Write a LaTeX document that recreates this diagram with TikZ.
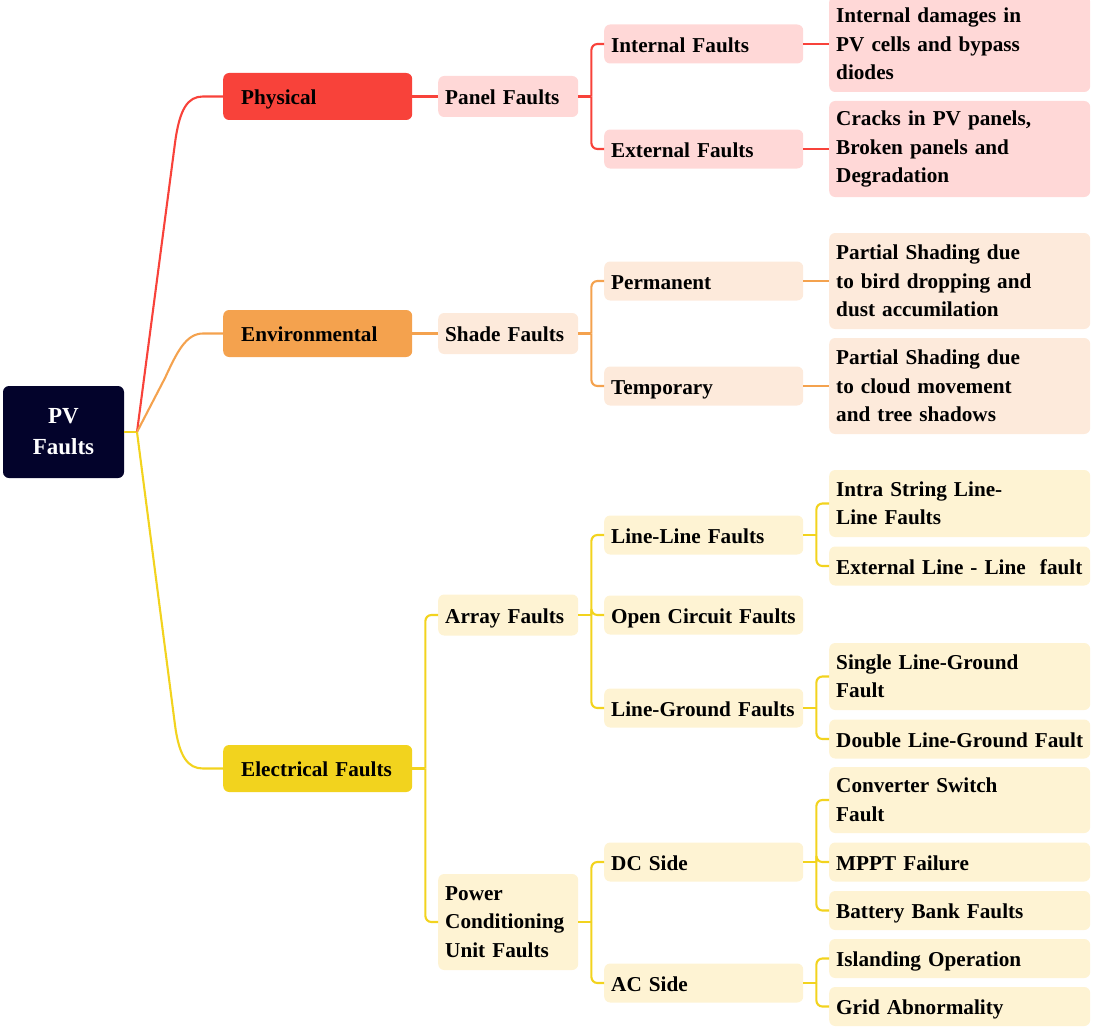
\documentclass[tikz,border=0pt]{standalone}
\usepackage{fontspec}
\setmainfont{Liberation Serif}
\usetikzlibrary{calc}
\definecolor{cRoot}{HTML}{03032B}
\definecolor{cRed}{HTML}{F8423A}
\definecolor{cOrg}{HTML}{F4A24E}
\definecolor{cYel}{HTML}{F2D31E}
\definecolor{fRed}{HTML}{FFD8D7}
\definecolor{fOrg}{HTML}{FDEADB}
\definecolor{fYel}{HTML}{FEF3D3}
\tikzset{
  base/.style={rectangle, rounded corners=6, anchor=west, align=left, inner ysep=0pt,
    text depth=0pt, text height=16.5pt, font=\fontsize{21.2}{28.5}\selectfont\bfseries},
  multi/.style={text depth={}, text height={}},
  lvA/.style={base, text width=153, inner xsep=18, minimum height=47},
  lvB/.style={base, text width=126, inner xsep=7, minimum height=41},
  lvC/.style={base, text width=185, inner xsep=7, minimum height=39},
  lvD/.style={base, text width=247, inner xsep=7, minimum height=39},
  rootbox/.style={rectangle, rounded corners=6, fill=cRoot, text=white, align=center,
    minimum width=121, minimum height=92, inner sep=0pt,
    font=\fontsize{23}{31}\selectfont\bfseries},
  rl/.style={draw=cRed, line width=2.1},
  ol/.style={draw=cOrg, line width=2.1},
  yl/.style={draw=cYel, line width=2.1},
  rc/.style={rounded corners=6}
}
\begin{document}
\begin{tikzpicture}[x=1pt,y=-1pt]
\useasboundingbox (0,0) rectangle (1102,1030);
% root
\node[rootbox] (root) at (63.5,432) {PV\\Faults};
% level 1
\node[lvA, fill=cRed] (phys) at (223,96.5) {Physical};
\node[lvA, fill=cOrg] (env) at (223,333.5) {Environmental};
\node[lvA, fill=cYel] (elec) at (223,768.5) {Electrical Faults};
% level 2
\node[lvB, fill=fRed] (panel) at (438,96.5) {Panel Faults};
\node[lvB, fill=fOrg] (shade) at (438,333.5) {Shade Faults};
\node[lvB, fill=fYel] (array) at (438,615) {Array Faults};
\node[lvB, multi, fill=fYel, minimum height=96] (pcu) at (438,922) {Power\\Conditioning\\Unit Faults};
% level 3
\node[lvC, fill=fRed] (intf) at (604,44) {Internal Faults};
\node[lvC, fill=fRed] (extf) at (604,149) {External Faults};
\node[lvC, fill=fOrg] (perm) at (604,281) {Permanent};
\node[lvC, fill=fOrg] (temp) at (604,386) {Temporary};
\node[lvC, fill=fYel] (ll) at (604,535) {Line-Line Faults};
\node[lvC, fill=fYel] (oc) at (604,615) {Open Circuit Faults};
\node[lvC, fill=fYel] (lg) at (604,708) {Line-Ground Faults};
\node[lvC, fill=fYel] (dc) at (604,862) {DC Side};
\node[lvC, fill=fYel] (ac) at (604,983) {AC Side};
% level 4
\node[lvD, multi, fill=fRed, minimum height=96] (d1) at (829,44) {Internal damages in\\PV cells and bypass\\diodes};
\node[lvD, multi, fill=fRed, minimum height=96] (d2) at (829,149) {Cracks in PV panels,\\Broken panels and\\Degradation};
\node[lvD, multi, fill=fOrg, minimum height=96] (d3) at (829,281) {Partial Shading due\\to bird dropping and\\dust accumilation};
\node[lvD, multi, fill=fOrg, minimum height=96] (d4) at (829,386) {Partial Shading due\\to cloud movement\\and tree shadows};
\node[lvD, multi, fill=fYel, minimum height=67] (d5) at (829,503.5) {Intra String Line-\\Line Faults};
\node[lvD, fill=fYel] (d6) at (829,566) {External Line - Line~~fault};
\node[lvD, multi, fill=fYel, minimum height=67] (d7) at (829,676.5) {Single Line-Ground\\Fault};
\node[lvD, fill=fYel] (d8) at (829,739) {Double Line-Ground Fault};
\node[lvD, multi, fill=fYel, minimum height=66] (d9) at (829,800) {Converter Switch\\Fault};
\node[lvD, fill=fYel] (d10) at (829,862) {MPPT Failure};
\node[lvD, fill=fYel] (d11) at (829,910.5) {Battery Bank Faults};
\node[lvD, fill=fYel] (d12) at (829,958.5) {Islanding Operation};
\node[lvD, fill=fYel] (d13) at (829,1006.5) {Grid Abnormality};
% root connectors
\coordinate (r0) at (137,432);
\draw[yl] (root.east) -- (r0);
\draw[rl] (r0) -- (175,143) .. controls (179.6,108.3) and (188,96.5) .. (203,96.5) -- (phys.west);
\draw[ol] (r0) -- (165,378) .. controls (177,352) and (186,333.5) .. (203,333.5) -- (env.west);
\draw[yl] (r0) -- (175,725) .. controls (179.2,757) and (188,768.5) .. (203,768.5) -- (elec.west);
% level 1 -> 2
\draw[rl] (phys.east) -- (panel.west);
\draw[ol] (env.east) -- (shade.west);
\coordinate (jE) at ($(elec.east)+(13,0)$);
\draw[yl] (elec.east) -- (jE);
\foreach \c in {array,pcu} \draw[yl,rc] (jE) |- (\c.west);
% level 2 -> 3
\coordinate (jP) at ($(panel.east)+(13,0)$);
\draw[rl] (panel.east) -- (jP);
\foreach \c in {intf,extf} \draw[rl,rc] (jP) |- (\c.west);
\coordinate (jS) at ($(shade.east)+(13,0)$);
\draw[ol] (shade.east) -- (jS);
\foreach \c in {perm,temp} \draw[ol,rc] (jS) |- (\c.west);
\coordinate (jA) at ($(array.east)+(13,0)$);
\draw[yl] (array.east) -- (jA);
\foreach \c in {ll,oc,lg} \draw[yl,rc] (jA) |- (\c.west);
\coordinate (jU) at ($(pcu.east)+(13,0)$);
\draw[yl] (pcu.east) -- (jU);
\foreach \c in {dc,ac} \draw[yl,rc] (jU) |- (\c.west);
% level 3 -> 4
\draw[rl] (intf.east) -- (d1.west);
\draw[rl] (extf.east) -- (d2.west);
\draw[ol] (perm.east) -- (d3.west);
\draw[ol] (temp.east) -- (d4.west);
\coordinate (jLL) at ($(ll.east)+(13,0)$);
\draw[yl] (ll.east) -- (jLL);
\foreach \c in {d5,d6} \draw[yl,rc] (jLL) |- (\c.west);
\coordinate (jLG) at ($(lg.east)+(13,0)$);
\draw[yl] (lg.east) -- (jLG);
\foreach \c in {d7,d8} \draw[yl,rc] (jLG) |- (\c.west);
\coordinate (jDC) at ($(dc.east)+(13,0)$);
\draw[yl] (dc.east) -- (jDC);
\foreach \c in {d9,d10,d11} \draw[yl,rc] (jDC) |- (\c.west);
\coordinate (jAC) at ($(ac.east)+(13,0)$);
\draw[yl] (ac.east) -- (jAC);
\foreach \c in {d12,d13} \draw[yl,rc] (jAC) |- (\c.west);
\end{tikzpicture}
\end{document}
